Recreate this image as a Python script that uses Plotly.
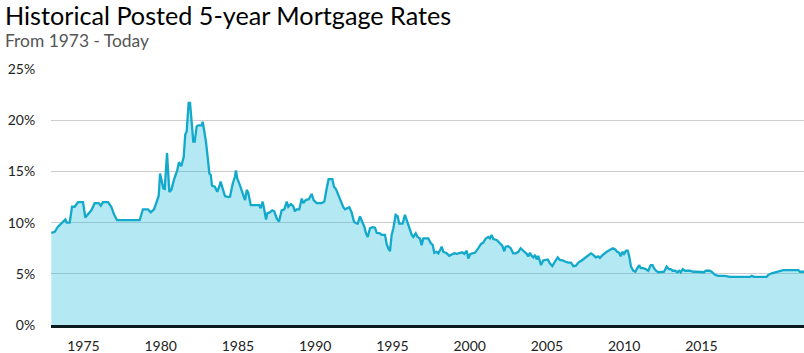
import plotly.graph_objects as go

years = [
    1972.92, 1973.14, 1973.35, 1973.57, 1973.74, 1973.83, 1973.92, 1974.11, 1974.26, 1974.43,
    1974.65, 1974.97, 1975.12, 1975.29, 1975.51, 1975.73, 1975.99, 1976.12, 1976.27, 1976.59,
    1976.80, 1976.98, 1977.17, 1978.64, 1978.85, 1979.18, 1979.35, 1979.57, 1979.72, 1979.87,
    1979.96, 1980.04, 1980.17, 1980.26, 1980.41, 1980.56, 1980.69, 1980.86, 1981.07, 1981.18,
    1981.33, 1981.49, 1981.59, 1981.68, 1981.81, 1981.90, 1982.01, 1982.11, 1982.20, 1982.33,
    1982.43, 1982.65, 1982.72, 1982.80, 1982.93, 1983.04, 1983.15, 1983.24, 1983.32, 1983.51,
    1983.66, 1983.79, 1983.88, 1984.01, 1984.16, 1984.38, 1984.49, 1984.66, 1984.81, 1984.87,
    1984.96, 1985.09, 1985.22, 1985.35, 1985.46, 1985.57, 1985.67, 1985.83, 1986.38, 1986.47,
    1986.60, 1986.71, 1986.82, 1986.90, 1987.07, 1987.22, 1987.35, 1987.51, 1987.66, 1987.83,
    1988.00, 1988.16, 1988.26, 1988.43, 1988.58, 1988.69, 1988.80, 1988.97, 1989.13, 1989.23,
    1989.39, 1989.60, 1989.77, 1989.90, 1990.10, 1990.42, 1990.59, 1990.74, 1990.87, 1991.11,
    1991.22, 1991.35, 1991.50, 1991.65, 1991.82, 1991.93, 1992.08, 1992.21, 1992.36, 1992.51,
    1992.64, 1992.75, 1992.90, 1993.05, 1993.18, 1993.29, 1993.40, 1993.55, 1993.72, 1993.87,
    1993.98, 1994.19, 1994.30, 1994.52, 1994.63, 1994.73, 1994.84, 1994.95, 1995.06, 1995.21,
    1995.34, 1995.44, 1995.66, 1995.81, 1995.92, 1996.07, 1996.25, 1996.35, 1996.51, 1996.63,
    1996.78, 1996.89, 1997.00, 1997.32, 1997.48, 1997.61, 1997.71, 1997.86, 1997.97, 1998.08,
    1998.19, 1998.29, 1998.51, 1998.68, 1998.84, 1999.00, 1999.16, 1999.37, 1999.52, 1999.65,
    1999.81, 1999.91, 2000.02, 2000.17, 2000.34, 2000.56, 2000.73, 2000.88, 2001.04, 2001.20,
    2001.31, 2001.42, 2001.53, 2001.75, 2001.92, 2002.11, 2002.24, 2002.33, 2002.50, 2002.65,
    2002.82, 2002.98, 2003.15, 2003.30, 2003.47, 2003.69, 2003.79, 2003.90, 2004.01, 2004.12,
    2004.23, 2004.34, 2004.44, 2004.62, 2004.76, 2004.94, 2005.05, 2005.20, 2005.35, 2005.52,
    2005.70, 2005.84, 2006.06, 2006.17, 2006.38, 2006.56, 2006.71, 2006.88, 2007.03, 2007.25,
    2007.42, 2007.57, 2007.72, 2007.85, 2008.00, 2008.16, 2008.32, 2008.43, 2008.58, 2008.71,
    2008.87, 2009.04, 2009.26, 2009.40, 2009.55, 2009.68, 2009.77, 2009.90, 2009.99, 2010.12,
    2010.23, 2010.33, 2010.44, 2010.59, 2010.72, 2010.85, 2010.98, 2011.07, 2011.24, 2011.41,
    2011.56, 2011.72, 2011.84, 2011.93, 2012.06, 2012.21, 2012.43, 2012.58, 2012.75, 2012.90,
    2013.01, 2013.14, 2013.29, 2013.44, 2013.57, 2013.66, 2013.79, 2013.94, 2014.26, 2014.47,
    2014.69, 2014.91, 2015.17, 2015.29, 2015.51, 2015.66, 2015.88, 2016.09, 2016.52, 2016.85,
    2018.14, 2018.25, 2018.40, 2019.22, 2019.33, 2019.55, 2019.87, 2020.19, 2020.30, 2021.27,
    2021.38, 2021.64,
]

rates = [
    9.0, 9.1, 9.6, 9.9, 10.1, 10.3, 10.0, 10.0, 11.55, 11.55,
    12.0, 12.0, 10.5, 10.8, 11.2, 11.9, 11.9, 11.65, 12.0, 12.0,
    11.55, 10.8, 10.25, 10.25, 11.3, 11.3, 11.0, 11.3, 11.9, 12.6,
    14.8, 14.2, 13.35, 13.3, 16.8, 13.0, 13.2, 14.2, 15.1, 15.9,
    15.5, 16.4, 18.6, 18.9, 21.7, 21.7, 20.0, 17.9, 17.9, 19.4,
    19.5, 19.5, 19.85, 19.2, 17.9, 16.4, 14.8, 14.65, 13.6, 13.5,
    13.0, 13.5, 14.0, 13.35, 12.6, 12.5, 12.55, 13.8, 14.5, 15.1,
    14.3, 13.8, 13.2, 12.6, 12.2, 13.2, 12.9, 11.7, 11.7, 11.4,
    12.05, 11.2, 10.3, 10.9, 11.0, 11.2, 11.1, 10.4, 10.1, 11.2,
    11.3, 12.05, 11.55, 11.8, 11.6, 11.1, 11.3, 11.3, 12.35, 11.9,
    12.2, 12.3, 12.8, 12.2, 11.9, 11.9, 12.05, 13.3, 14.25, 14.25,
    13.5, 13.25, 12.7, 12.05, 11.5, 11.3, 11.4, 11.5, 11.0, 10.1,
    9.95, 9.9, 10.6, 10.15, 9.6, 8.95, 8.6, 9.45, 9.55, 9.5,
    9.0, 8.95, 8.8, 8.8, 7.9, 7.5, 7.2, 8.8, 9.45, 10.75,
    10.6, 9.9, 9.9, 10.75, 10.25, 9.45, 8.8, 8.6, 8.95, 8.6,
    8.45, 7.8, 8.45, 8.45, 8.0, 7.8, 7.05, 7.15, 7.0, 7.3,
    7.65, 7.15, 7.0, 6.75, 6.85, 7.0, 6.95, 7.0, 7.1, 6.95,
    7.25, 6.5, 6.9, 7.0, 7.05, 7.5, 7.9, 8.05, 8.45, 8.6,
    8.45, 8.8, 8.4, 8.3, 8.05, 7.75, 7.2, 7.65, 7.7, 7.5,
    7.0, 7.0, 7.15, 7.5, 7.25, 6.95, 6.7, 7.05, 6.75, 6.6,
    6.85, 6.4, 6.75, 5.85, 6.3, 6.35, 6.4, 6.0, 5.75, 6.2,
    6.6, 6.35, 6.3, 6.2, 6.1, 6.1, 5.75, 5.8, 6.1, 6.3,
    6.5, 6.75, 6.85, 7.0, 6.85, 6.6, 6.7, 6.55, 6.8, 7.0,
    7.15, 7.3, 7.5, 7.4, 7.15, 7.05, 6.7, 7.15, 6.95, 7.25,
    7.25, 6.7, 5.7, 5.3, 5.2, 5.55, 5.85, 5.55, 5.55, 5.45,
    5.3, 5.85, 5.85, 5.55, 5.3, 5.15, 5.15, 5.2, 5.7, 5.45,
    5.45, 5.3, 5.3, 5.15, 5.3, 5.15, 5.45, 5.3, 5.3, 5.2,
    5.2, 5.15, 5.15, 5.3, 5.3, 5.2, 4.9, 4.8, 4.8, 4.7,
    4.7, 4.8, 4.7, 4.7, 4.9, 5.05, 5.15, 5.3, 5.35, 5.35,
    5.2, 5.2,
]

x_tick_years = [1975, 1980, 1985, 1990, 1995, 2000, 2005, 2010, 2015]
x_tick_labels = [str(y) for y in x_tick_years]
y_tick_values = [0, 5, 10, 15, 20, 25]
y_tick_labels = [f"{v}%" for v in y_tick_values]

title_text = "Historical Posted 5-year Mortgage Rates"
subtitle_text = "From 1973 - Today"

W, H = 804, 353
ML, MR, MT, MB = 51, 0, 69, 28
PW, PH = W - ML - MR, H - MT - MB

fig = go.Figure()
fig.add_trace(go.Scatter(
    x=years, y=rates, mode="lines",
    line=dict(color="#12a9ca", width=2.3),
    fill="tozeroy", fillcolor="rgba(8,180,214,0.30)",
    hoverinfo="x+y",
))

font_family = "Lato, 'Open Sans', sans-serif"

fig.update_layout(
    width=W, height=H,
    margin=dict(l=ML, r=MR, t=MT, b=MB, autoexpand=False),
    paper_bgcolor="white", plot_bgcolor="white",
    showlegend=False,
    font=dict(family=font_family, color="#222"),
    xaxis=dict(
        range=[1972.9, 2021.64], automargin=False,
        tickvals=x_tick_years, ticktext=x_tick_labels,
        showgrid=False, zeroline=False,
        showline=True, linecolor="#0b1a1f", linewidth=3,
        ticks="outside", ticklen=6, tickcolor="rgba(0,0,0,0)",
        tickfont=dict(size=14, color="#222"),
    ),
    yaxis=dict(
        range=[0, 25], automargin=False,
        tickvals=y_tick_values, ticktext=y_tick_labels,
        showgrid=True, gridcolor="#cdcdcd", gridwidth=1,
        zeroline=False, showline=False,
        ticks="outside", ticklen=12, tickcolor="rgba(0,0,0,0)",
        tickfont=dict(size=14, color="#222"),
    ),
    annotations=[
        dict(text=title_text, xref="paper", yref="paper",
             x=(3 - ML) / PW, y=(PH + MT - 15) / PH, xanchor="left", yanchor="middle",
             showarrow=False, font=dict(size=25.2, color="#000", family=font_family)),
        dict(text=subtitle_text, xref="paper", yref="paper",
             x=(3 - ML) / PW, y=(PH + MT - 40) / PH, xanchor="left", yanchor="middle",
             showarrow=False, font=dict(size=17.4, color="#555", family=font_family)),
    ],
)

fig.write_html("out.html")
